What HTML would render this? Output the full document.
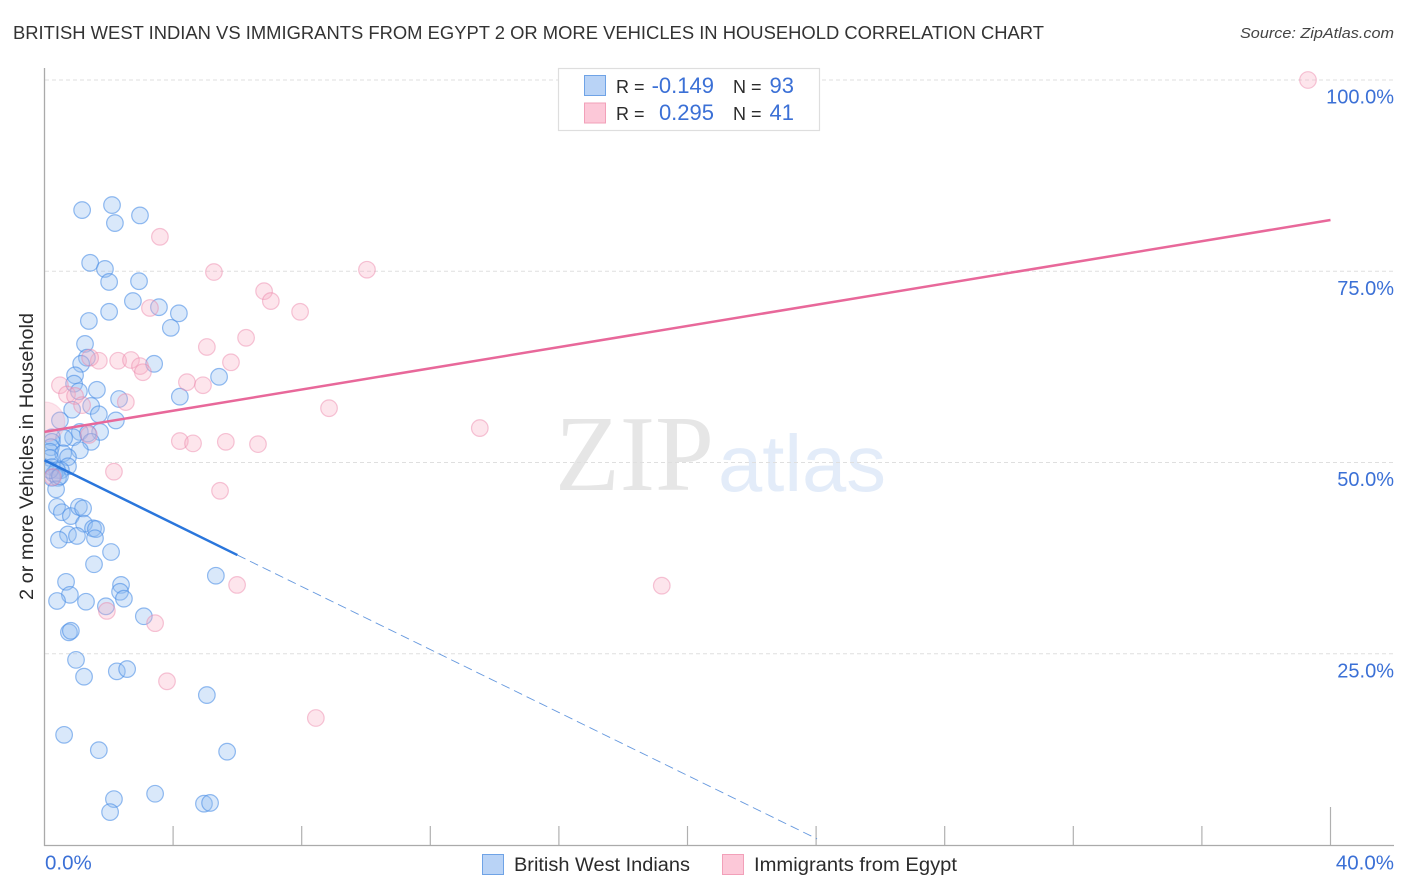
<!DOCTYPE html>
<html lang="en">
<head>
<meta charset="utf-8">
<title>British West Indian vs Immigrants from Egypt correlation chart</title>
<style>
html,body{margin:0;padding:0;background:#fff}
svg{display:block}
text{font-family:"Liberation Sans",sans-serif}
</style>
</head>
<body>
<svg id="chart" xmlns="http://www.w3.org/2000/svg" width="1406" height="892" viewBox="0 0 1406 892">
  <defs><clipPath id="plot-clip"><rect x="45" y="60" width="1349" height="785"/></clipPath></defs>
  <rect width="1406" height="892" fill="#fff"/>
  <text x="13" y="39" font-size="18.5" fill="#333" textLength="1031" lengthAdjust="spacingAndGlyphs">BRITISH WEST INDIAN VS IMMIGRANTS FROM EGYPT 2 OR MORE VEHICLES IN HOUSEHOLD CORRELATION CHART</text>
  <text x="1394" y="38" font-size="15" font-style="italic" fill="#444" text-anchor="end" textLength="154" lengthAdjust="spacingAndGlyphs">Source: ZipAtlas.com</text>
  <text x="555" y="490" font-size="108" fill="#e6e6e6" textLength="159" lengthAdjust="spacingAndGlyphs" style="font-family:'Liberation Serif',serif">ZIP</text>
  <text x="718" y="491" font-size="80" fill="#e3ecf9" textLength="168" lengthAdjust="spacingAndGlyphs">atlas</text>
  <g id="grid"></g>
  <g id="axes"></g>
  <text transform="translate(33,456.5) rotate(-90)" font-size="19" fill="#2b2b2b" text-anchor="middle" textLength="287" lengthAdjust="spacingAndGlyphs">2 or more Vehicles in Household</text>
  <g id="series-west-indians" clip-path="url(#plot-clip)"></g>
  <g id="series-egypt" clip-path="url(#plot-clip)"></g>
  <g id="trends"></g>
  <g id="tick-labels"></g>

  <g>
    <rect x="558.5" y="68.5" width="261" height="62" fill="#fff" stroke="#dedede" stroke-width="1.2"/>
    <rect x="584.5" y="75.5" width="21" height="20" fill="#b9d3f6" stroke="#6fa3e6" stroke-width="1"/>
    <rect x="584.5" y="103" width="21" height="20" fill="#fcc8d8" stroke="#f2a0b9" stroke-width="1"/>
    <text x="616" y="93" font-size="18" fill="#2b2b2b">R =</text>
    <text x="714" y="93" font-size="22" fill="#3b70d6" text-anchor="end">-0.149</text>
    <text x="733" y="93" font-size="18" fill="#2b2b2b">N =</text>
    <text x="794" y="93" font-size="22" fill="#3b70d6" text-anchor="end">93</text>
    <text x="616" y="120" font-size="18" fill="#2b2b2b">R =</text>
    <text x="714" y="120" font-size="22" fill="#3b70d6" text-anchor="end">0.295</text>
    <text x="733" y="120" font-size="18" fill="#2b2b2b">N =</text>
    <text x="794" y="120" font-size="22" fill="#3b70d6" text-anchor="end">41</text>
  </g>

  <g>
    <rect x="482.5" y="854.5" width="21" height="20" fill="#b9d3f6" stroke="#6fa3e6" stroke-width="1"/>
    <text x="514" y="871" font-size="19" fill="#2b2b2b" textLength="176" lengthAdjust="spacingAndGlyphs">British West Indians</text>
    <rect x="722.5" y="854.5" width="21" height="20" fill="#fcc8d8" stroke="#f2a0b9" stroke-width="1"/>
    <text x="754" y="871" font-size="19" fill="#2b2b2b" textLength="203" lengthAdjust="spacingAndGlyphs">Immigrants from Egypt</text>
  </g>
</svg>
<script>
const westIndianX = [1.17,2.10,2.19,2.97,1.42,1.88,2.01,2.94,2.75,2.01,1.38,3.56,4.18,3.93,1.26,1.32,1.14,3.41,0.95,0.92,5.43,1.63,1.07,4.21,2.32,1.45,0.86,1.69,2.22,0.48,1.73,1.10,1.35,0.89,0.61,1.45,0.23,0.23,0.20,1.10,0.17,0.58,0.73,0.17,0.73,0.23,0.51,0.39,0.30,0.23,0.42,0.36,0.39,0.54,0.82,1.07,1.20,1.23,1.51,1.60,0.73,1.01,1.57,0.45,2.07,1.54,5.33,0.67,2.38,2.35,0.79,2.47,0.39,1.29,1.91,3.09,0.76,0.82,0.98,1.23,2.25,2.57,5.05,0.61,1.69,5.68,2.16,3.44,2.04,4.96,5.15,0.17,0.48];
const westIndianY = [83.0,83.65,81.3,82.3,76.1,75.3,73.6,73.7,71.1,69.7,68.5,70.3,69.5,67.6,65.5,63.7,62.9,62.9,61.4,60.3,61.2,59.5,59.3,58.6,58.3,57.4,56.9,56.3,55.5,55.5,54.0,54.0,53.8,53.3,53.2,52.7,53.3,52.7,52.0,51.6,51.4,51.2,50.7,50.6,49.5,49.4,49.0,49.0,48.5,48.0,48.0,46.5,44.2,43.5,43.0,44.2,44.0,42.0,41.4,41.3,40.6,40.4,40.1,39.9,38.3,36.7,35.2,34.4,34.0,33.1,32.7,32.2,31.9,31.8,31.2,29.9,27.8,28.0,24.2,22.0,22.7,23.0,19.6,14.4,12.4,12.2,6.0,6.7,4.3,5.4,5.5,49.0,48.2];
const egyptX = [39.3,3.59,5.27,10.03,6.83,7.04,3.28,7.95,6.27,5.05,5.80,2.29,2.69,1.69,1.42,2.97,3.06,4.43,4.93,0.48,0.70,0.95,1.17,2.53,8.85,13.54,4.21,4.62,5.64,6.64,5.46,2.16,5.99,19.2,1.94,3.44,3.81,8.44,0.26,1.38,0.01];
const egyptY = [100,79.5,74.9,75.2,72.4,71.1,70.2,69.7,66.3,65.1,63.1,63.3,63.4,63.3,63.7,62.6,61.8,60.5,60.1,60.1,58.9,58.7,57.5,57.9,57.1,54.5,52.8,52.5,52.7,52.4,46.3,48.8,34.0,33.9,30.6,29.0,21.4,16.6,48.1,53.6,55.3];
const egyptWeight = [1,1,1,1,1,1,1,1,1,1,1,1,1,1,1,1,1,1,1,1,1,1,1,1,1,1,1,1,1,1,1,1,1,1,1,1,1,1,1,1,2.4];
const westIndianTrendX = [0,6.0];
const westIndianTrendY = [50.3,37.9];
const westIndianDashX = [6.0,24.03];
const westIndianDashY = [37.9,0.8];
const egyptTrendX = [0,40];
const egyptTrendY = [54.0,81.7];
const yTicks = [100,75,50,25];
const yTickLabels = ["100.0%","75.0%","50.0%","25.0%"];
const xTicks = [5,10,15,20,25,30,35,40,45,50];
const xTickLabels = ["0.0%","40.0%"];

const NS = 'http://www.w3.org/2000/svg';
function sx(v){ return 44.5 + v * 32.15; }
function sy(v){ return 845 - v * 7.65; }
function make(parent, tag, attrs){
  const el = document.createElementNS(NS, tag);
  for (const k in attrs) el.setAttribute(k, attrs[k]);
  parent.appendChild(el);
  return el;
}
const grid = document.getElementById('grid');
const axes = document.getElementById('axes');
const labels = document.getElementById('tick-labels');
yTicks.forEach(function(t, i){
  const line = make(grid, 'line', {x1:45, x2:1394, y1:sy(t), y2:sy(t), stroke:'#dfdfdf', 'stroke-width':1, 'stroke-dasharray':'4 3'});
  
  
  const lab = make(labels, 'text', {x:1394, y:sy(t) + 23.5, 'font-size':20, fill:'#3b70d6', 'text-anchor':'end'});
  lab.textContent = yTickLabels[i];
  
  
});
xTicks.forEach(function(t){
  const pos = sx(t * 0.8);
  const top = t === 50 ? 807 : 826;
  const tick = make(axes, 'line', {x1:pos, x2:pos, y1:top, y2:845, stroke:'#b0b0b0', 'stroke-width':1.2});
  
  
});
const yAxis = make(axes, 'line', {x1:44.5, x2:44.5, y1:68, y2:846, stroke:'#aaaaaa', 'stroke-width':1.3});


const xAxis = make(axes, 'line', {x1:44, x2:1394, y1:845.5, y2:845.5, stroke:'#aaaaaa', 'stroke-width':1.3});


const xLabelLeft = make(labels, 'text', {x:45, y:869.5, 'font-size':20.5, fill:'#3b70d6'});
xLabelLeft.textContent = xTickLabels[0];


const xLabelRight = make(labels, 'text', {x:1394, y:869.5, 'font-size':20.5, fill:'#3b70d6', 'text-anchor':'end'});
xLabelRight.textContent = xTickLabels[1];



const blueGroup = document.getElementById('series-west-indians');
westIndianX.forEach(function(x, i){
  const c = make(blueGroup, 'circle', {cx:sx(x), cy:sy(westIndianY[i]), r:8.3, fill:'rgba(145,190,240,0.35)', stroke:'rgba(70,140,230,0.58)', 'stroke-width':1.2});
  
  
});
const pinkGroup = document.getElementById('series-egypt');
egyptX.forEach(function(x, i){
  const c = make(pinkGroup, 'circle', {cx:sx(x), cy:sy(egyptY[i]), r:8.3 * egyptWeight[i], fill:'rgba(248,175,198,0.33)', stroke:i === 40 ? 'rgba(236,125,165,0.2)' : 'rgba(236,130,168,0.46)', 'stroke-width':1.2});
  
  
});
const trends = document.getElementById('trends');
const pinkLine = make(trends, 'line', {x1:sx(egyptTrendX[0]), y1:sy(egyptTrendY[0]), x2:sx(egyptTrendX[1]), y2:sy(egyptTrendY[1]), stroke:'#e8689a', 'stroke-width':2.5});


const blueLine = make(trends, 'line', {x1:sx(westIndianTrendX[0]), y1:sy(westIndianTrendY[0]), x2:sx(westIndianTrendX[1]), y2:sy(westIndianTrendY[1]), stroke:'#2a76dc', 'stroke-width':2.5});


const blueDash = make(trends, 'line', {x1:sx(westIndianDashX[0]), y1:sy(westIndianDashY[0]), x2:sx(westIndianDashX[1]), y2:sy(westIndianDashY[1]), stroke:'#4a86d8', 'stroke-width':0.9, 'stroke-opacity':0.85, 'stroke-dasharray':'9 5'});


</script>
</body>
</html>
